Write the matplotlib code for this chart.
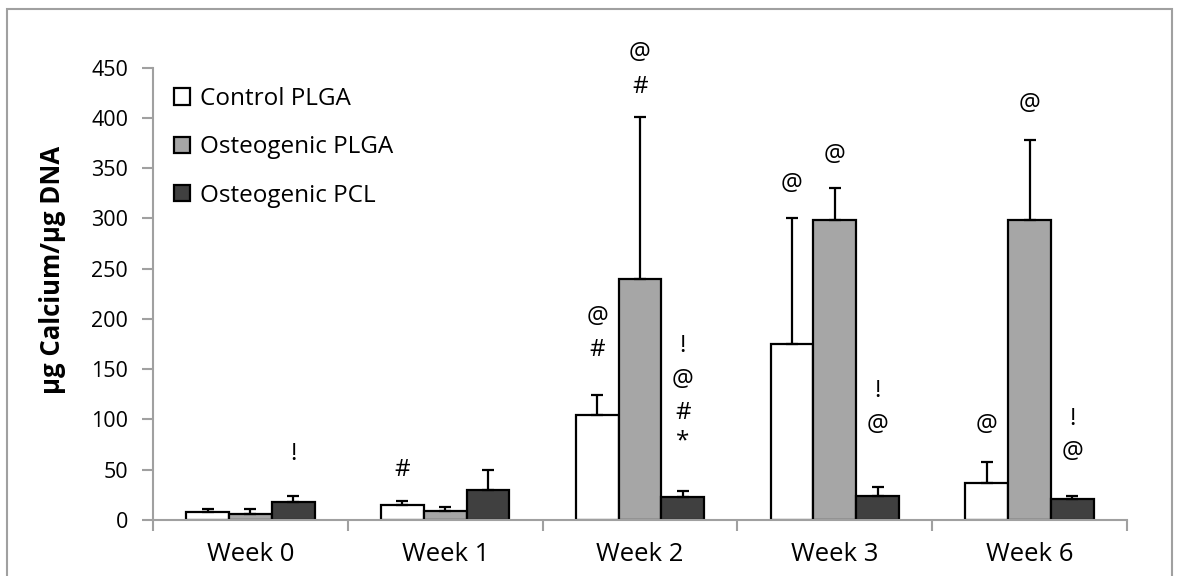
import numpy as np
import matplotlib.pyplot as plt
from matplotlib.patches import Rectangle

plt.rcParams['font.family'] = ['Open Sans', 'DejaVu Sans']

weeks = ['Week 0', 'Week 1', 'Week 2', 'Week 3', 'Week 6']
series = ['Control PLGA', 'Osteogenic PLGA', 'Osteogenic PCL']
colors = ['#ffffff', '#a6a6a6', '#404040']

control = [8, 15, 104, 175, 37]
control_err = [3, 4, 20, 125, 21]
osteo_plga = [6, 9, 240, 298, 298]
osteo_plga_err = [5, 3.5, 161, 32, 80]
osteo_pcl = [18, 29.5, 23, 24, 21]
osteo_pcl_err = [6, 20, 6, 9, 3]

# significance marks, per week, with the height they sit at
control_marks = [[], ['#'], ['@', '#'], ['@'], ['@']]
control_mark_y = [[], [50], [202, 169], [334], [95]]
plga_marks = [[], [], ['@', '#'], ['@'], ['@']]
plga_mark_y = [[], [], [465, 431], [363], [414]]
pcl_marks = [['!'], [], ['!', '@', '#', '*'], ['!', '@'], ['!', '@']]
pcl_mark_y = [[66], [], [173, 139, 106, 78], [128, 95], [100, 68]]

values = [control, osteo_plga, osteo_pcl]
errors = [control_err, osteo_plga_err, osteo_pcl_err]
marks = [control_marks, plga_marks, pcl_marks]
mark_y = [control_mark_y, plga_mark_y, pcl_mark_y]

fig = plt.figure(figsize=(11.77, 5.76), dpi=100)
ax = fig.add_axes([153 / 1177, 1 - 520 / 576, 974 / 1177, (520 - 67.7) / 576])

x = np.arange(len(weeks))
width = 0.22
for i in range(3):
    pos = x + (i - 1) * width
    ax.bar(pos, values[i], width, color=colors[i], edgecolor='black',
           linewidth=1.6, label=series[i], zorder=2)
    ax.errorbar(pos, values[i], yerr=[np.zeros(len(weeks)), errors[i]],
                fmt='none', ecolor='black', elinewidth=1.6, capsize=4,
                capthick=1.6, zorder=3)
    for j in range(len(weeks)):
        for s, yy in zip(marks[i][j], mark_y[i][j]):
            ax.text(pos[j], yy, s, ha='center', va='center', fontsize=17.5,
                    clip_on=False)

ax.set_xlim(-0.5, len(weeks) - 0.5)
ax.set_ylim(0, 450)
ax.set_yticks(np.arange(0, 451, 50))
ax.set_xticks(x)
ax.set_xticklabels(weeks, fontsize=18.5)
ax.set_xticks(np.arange(-0.5, len(weeks), 1), minor=True)
ax.tick_params(axis='x', which='major', length=0, pad=16)
ax.tick_params(axis='x', which='minor', length=8, width=1.5, color='#a0a0a0')
ax.tick_params(axis='y', length=8, width=1.5, color='#a0a0a0', labelsize=15.5, pad=10)

for side in ['top', 'right']:
    ax.spines[side].set_visible(False)
for side in ['left', 'bottom']:
    ax.spines[side].set_color('#a0a0a0')
    ax.spines[side].set_linewidth(1.5)

ax.set_ylabel('µg Calcium/µg DNA', fontsize=18.5, fontweight='bold', va='center')
ax.yaxis.set_label_coords((52 - 153) / 974, (520 - 270) / 452)

ax.legend(loc='upper left', bbox_to_anchor=(174 / 1177, 1 - 87 / 576),
          bbox_transform=fig.transFigure, frameon=False, fontsize=17.5,
          handlelength=0.65, handleheight=0.65, handletextpad=0.4,
          labelspacing=1.0, borderpad=0, borderaxespad=0)

fig.patches.append(Rectangle((7 / 1177, -0.1), 1165 / 1177, 1.1 - 9 / 576,
                             transform=fig.transFigure, fill=False,
                             edgecolor='#a0a0a0', linewidth=1.5))

fig.savefig('out.png', dpi=100)
